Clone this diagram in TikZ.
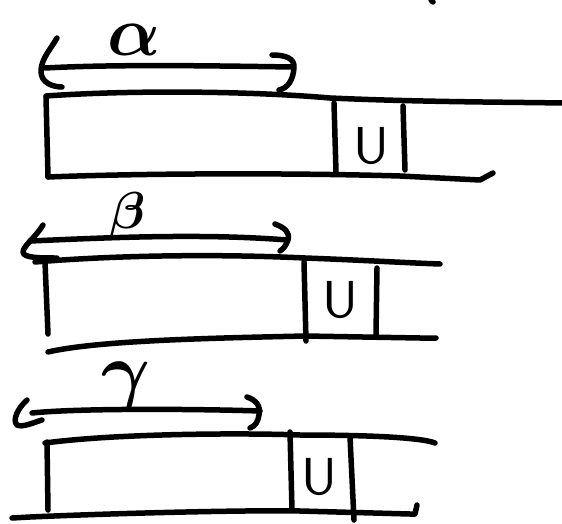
\documentclass[tikz,border=0pt]{standalone}
\usepackage{bm}
\begin{document}
\begin{tikzpicture}[x=1pt,y=-1pt,
  pen/.style={line width=5.5pt,line cap=round,line join=round},
  lbl/.style={inner sep=0pt},
  ulbl/.style={inner sep=0pt,font=\sffamily,scale=5.2}]
\useasboundingbox (0,0) rectangle (562,524);
% small mark at top
\draw[pen] (431,0) -- (433,2);
% ---------- strip 1 ----------
\draw[pen] (46,96) .. controls (130,90) and (250,91) .. (330,98) .. controls (420,102) and (500,102) .. (562,103);
\draw[pen] (46,97) -- (48,177);
\draw[pen] (48,177) .. controls (150,173) and (300,173) .. (400,176) -- (480,180) -- (493,173);
\draw[pen] (334,103) -- (336,172);
\draw[pen] (403,106) -- (405,170);
\node[ulbl] (u1) at (371,146) {U};
\draw[pen] (45,68) .. controls (120,64) and (220,66) .. (293,67);
\draw[pen] (57,38) .. controls (50,50) and (42,58) .. (41,70) .. controls (40,84) and (55,87) .. (62,87);
\draw[pen] (272,55) .. controls (285,55) and (295,58) .. (294,68) .. controls (293,80) and (288,88) .. (279,90);
\node[lbl,scale=7] (a) at (134,40) {$\bm\alpha$};
% ---------- strip 2 ----------
\draw[pen] (35,262) .. controls (120,255) and (220,254) .. (305,258) .. controls (360,260) and (410,263) .. (440,264);
\draw[pen] (45,262) -- (48,334);
\draw[pen] (48,352) .. controls (100,340) and (220,338) .. (305,336) -- (420,338) -- (436,338);
\draw[pen] (304,262) -- (306,341);
\draw[pen] (377,268) -- (376,335);
\node[ulbl] (u2) at (340,300) {U};
\draw[pen] (30,241) .. controls (100,238) and (200,233) .. (287,240);
\draw[pen] (43,225) .. controls (35,238) and (24,245) .. (23,252) .. controls (23,258) and (40,258) .. (57,258);
\draw[pen] (275,224) .. controls (285,228) and (290,232) .. (288,240) .. controls (286,246) and (283,249) .. (280,251);
\node[lbl,scale=5.2] (b) at (128,215) {$\bm\beta$};
% ---------- strip 3 ----------
\draw[pen] (45,443) .. controls (120,433) and (250,433) .. (300,435) .. controls (360,435) and (420,437) .. (435,443);
\draw[pen] (47,442) -- (48,510);
\draw[pen] (12,518) -- (30,517) .. controls (120,513) and (250,510) .. (300,511) -- (410,514) -- (415,514) -- (417,505);
\draw[pen] (290,432) -- (292,510);
\draw[pen] (350,437) -- (354,520);
\node[ulbl] (u3) at (319,477) {U};
\draw[pen] (32,413) .. controls (80,408) and (200,409) .. (260,411);
\draw[pen] (27,400) .. controls (18,408) and (12,420) .. (17,425) .. controls (22,428) and (35,422) .. (42,420);
\draw[pen] (247,397) .. controls (256,400) and (261,406) .. (259,415) .. controls (258,422) and (255,426) .. (250,428);
\node[lbl,scale=7.5] (g) at (126,386) {$\bm\gamma$};
\end{tikzpicture}
\end{document}
